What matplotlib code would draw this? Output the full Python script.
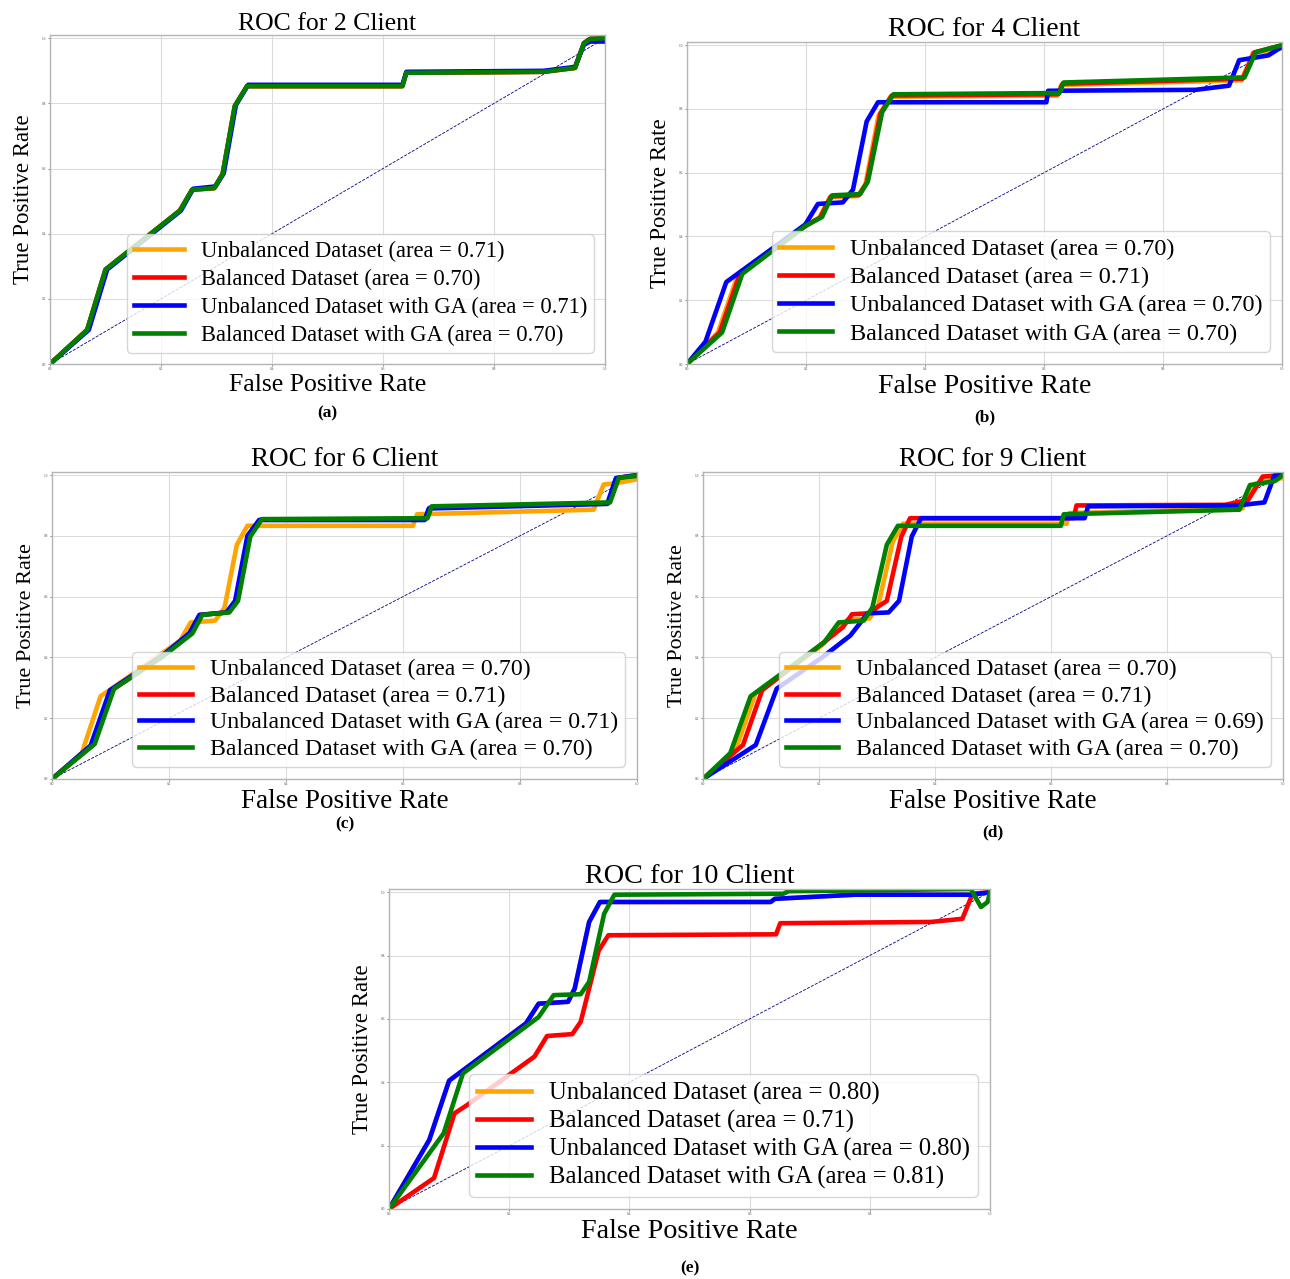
import numpy as np
import matplotlib
matplotlib.use("Agg")
import matplotlib.pyplot as plt

plt.rcParams['font.family'] = ['Liberation Serif', 'DejaVu Serif']

series_names = ["Unbalanced Dataset", "Balanced Dataset",
                "Unbalanced Dataset with GA", "Balanced Dataset with GA"]
colors = ["orange", "red", "blue", "green"]

# ---- 2 clients ----
a_unbal_fpr = [0, 0.067, 0.10, 0.234, 0.256, 0.296, 0.311, 0.333, 0.355, 0.635, 0.642, 0.889, 0.946, 0.962, 0.973, 1.0]
a_unbal_tpr = [0, 0.105, 0.29, 0.471, 0.535, 0.54, 0.583, 0.792, 0.853, 0.853, 0.894, 0.897, 0.909, 0.985, 0.998, 1.0]
a_bal_fpr = [0, 0.067, 0.10, 0.234, 0.256, 0.296, 0.311, 0.333, 0.355, 0.635, 0.642, 0.889, 0.946, 0.962, 0.973, 1.0]
a_bal_tpr = [0, 0.105, 0.29, 0.471, 0.535, 0.54, 0.583, 0.792, 0.853, 0.853, 0.894, 0.897, 0.909, 0.985, 0.998, 1.0]
a_unbal_ga_fpr = [0, 0.07, 0.103, 0.236, 0.258, 0.298, 0.313, 0.335, 0.357, 0.635, 0.642, 0.889, 0.946, 0.962, 0.973, 1.0]
a_unbal_ga_tpr = [0, 0.105, 0.29, 0.471, 0.538, 0.545, 0.585, 0.795, 0.857, 0.857, 0.897, 0.9, 0.912, 0.98, 0.99, 0.99]
a_bal_ga_fpr = [0, 0.067, 0.10, 0.234, 0.256, 0.296, 0.311, 0.333, 0.355, 0.635, 0.642, 0.889, 0.946, 0.962, 0.973, 1.0]
a_bal_ga_tpr = [0, 0.105, 0.29, 0.471, 0.535, 0.54, 0.583, 0.792, 0.853, 0.853, 0.894, 0.897, 0.909, 0.985, 0.998, 1.0]
a_auc = [0.71, 0.70, 0.71, 0.70]

# ---- 4 clients ----
b_unbal_fpr = [0, 0.052, 0.086, 0.199, 0.222, 0.240, 0.287, 0.300, 0.322, 0.342, 0.622, 0.629, 0.932, 0.951, 1.0]
b_unbal_tpr = [0, 0.099, 0.283, 0.433, 0.458, 0.523, 0.527, 0.565, 0.78, 0.838, 0.842, 0.875, 0.89, 0.975, 0.99]
b_bal_fpr = [0, 0.055, 0.089, 0.199, 0.224, 0.242, 0.289, 0.302, 0.325, 0.344, 0.624, 0.631, 0.934, 0.953, 1.0]
b_bal_tpr = [0, 0.099, 0.283, 0.433, 0.46, 0.526, 0.53, 0.568, 0.785, 0.842, 0.846, 0.879, 0.895, 0.977, 1.0]
b_unbal_ga_fpr = [0, 0.031, 0.066, 0.199, 0.22, 0.262, 0.279, 0.302, 0.321, 0.604, 0.607, 0.855, 0.911, 0.928, 0.977, 1.0]
b_unbal_ga_tpr = [0, 0.07, 0.257, 0.438, 0.502, 0.507, 0.547, 0.761, 0.821, 0.821, 0.857, 0.86, 0.873, 0.953, 0.968, 0.995]
b_bal_ga_fpr = [0, 0.059, 0.093, 0.199, 0.227, 0.244, 0.291, 0.304, 0.328, 0.347, 0.626, 0.633, 0.937, 0.956, 1.0]
b_bal_ga_tpr = [0, 0.099, 0.283, 0.433, 0.461, 0.529, 0.533, 0.572, 0.79, 0.846, 0.85, 0.883, 0.899, 0.978, 1.0]
b_auc = [0.70, 0.71, 0.70, 0.70]

# ---- 6 clients ----
c_unbal_fpr = [0, 0.051, 0.083, 0.219, 0.237, 0.279, 0.295, 0.316, 0.334, 0.617, 0.624, 0.926, 0.943, 0.964, 1.0]
c_unbal_tpr = [0, 0.085, 0.272, 0.455, 0.515, 0.521, 0.564, 0.771, 0.833, 0.833, 0.871, 0.886, 0.969, 0.973, 0.986]
c_bal_fpr = [0, 0.069, 0.102, 0.188, 0.237, 0.254, 0.300, 0.315, 0.336, 0.356, 0.639, 0.646, 0.951, 0.966, 1.0]
c_bal_tpr = [0, 0.11, 0.292, 0.403, 0.48, 0.54, 0.548, 0.586, 0.8, 0.853, 0.855, 0.893, 0.907, 0.99, 1.0]
c_unbal_ga_fpr = [0, 0.066, 0.099, 0.188, 0.235, 0.252, 0.298, 0.313, 0.334, 0.354, 0.637, 0.644, 0.949, 0.964, 1.0]
c_unbal_ga_tpr = [0, 0.11, 0.292, 0.405, 0.48, 0.54, 0.548, 0.586, 0.8, 0.852, 0.852, 0.89, 0.905, 0.99, 1.0]
c_bal_ga_fpr = [0, 0.073, 0.106, 0.188, 0.240, 0.257, 0.303, 0.318, 0.339, 0.359, 0.642, 0.649, 0.954, 0.969, 1.0]
c_bal_ga_tpr = [0, 0.115, 0.297, 0.401, 0.479, 0.540, 0.548, 0.586, 0.798, 0.855, 0.858, 0.897, 0.910, 0.991, 0.997]
c_auc = [0.70, 0.71, 0.71, 0.70]

# ---- 9 clients ----
d_unbal_fpr = [0, 0.055, 0.09, 0.205, 0.236, 0.25, 0.287, 0.302, 0.327, 0.345, 0.627, 0.632, 0.93, 0.95, 0.975, 1.0]
d_unbal_tpr = [0, 0.09, 0.28, 0.44, 0.5, 0.525, 0.528, 0.57, 0.78, 0.84, 0.84, 0.875, 0.89, 0.97, 0.985, 0.99]
d_bal_fpr = [0, 0.069, 0.102, 0.198, 0.241, 0.257, 0.284, 0.317, 0.342, 0.357, 0.639, 0.644, 0.9, 0.94, 0.965, 1.0]
d_bal_tpr = [0, 0.112, 0.292, 0.434, 0.499, 0.542, 0.545, 0.586, 0.798, 0.858, 0.858, 0.9, 0.902, 0.918, 0.995, 1.0]
d_unbal_ga_fpr = [0, 0.091, 0.127, 0.206, 0.254, 0.284, 0.320, 0.338, 0.360, 0.376, 0.658, 0.664, 0.922, 0.968, 0.985, 1.0]
d_unbal_ga_tpr = [0, 0.112, 0.297, 0.401, 0.472, 0.545, 0.548, 0.586, 0.798, 0.858, 0.858, 0.897, 0.9, 0.91, 0.998, 1.0]
d_bal_ga_fpr = [0, 0.047, 0.082, 0.209, 0.234, 0.277, 0.292, 0.317, 0.336, 0.617, 0.622, 0.925, 0.943, 0.986, 1.0]
d_bal_ga_tpr = [0, 0.085, 0.272, 0.45, 0.515, 0.521, 0.564, 0.771, 0.833, 0.833, 0.871, 0.886, 0.967, 0.98, 1.0]
d_auc = [0.70, 0.71, 0.69, 0.70]

# ---- 10 clients ----
e_unbal_fpr = [0, 0.067, 0.100, 0.228, 0.249, 0.298, 0.309, 0.333, 0.351, 0.635, 0.642, 0.775, 0.972, 1.0]
e_unbal_tpr = [0, 0.218, 0.405, 0.586, 0.648, 0.654, 0.696, 0.906, 0.969, 0.969, 0.979, 0.992, 0.992, 1.0]
e_bal_fpr = [0, 0.075, 0.109, 0.13, 0.242, 0.263, 0.305, 0.319, 0.349, 0.365, 0.644, 0.651, 0.902, 0.954, 0.971, 1.0]
e_bal_tpr = [0, 0.098, 0.302, 0.328, 0.481, 0.546, 0.552, 0.591, 0.816, 0.864, 0.867, 0.902, 0.906, 0.916, 0.995, 1.0]
e_unbal_ga_fpr = [0, 0.067, 0.100, 0.228, 0.249, 0.298, 0.309, 0.333, 0.351, 0.635, 0.642, 0.775, 0.972, 1.0]
e_unbal_ga_tpr = [0, 0.218, 0.405, 0.586, 0.648, 0.654, 0.696, 0.906, 0.969, 0.969, 0.979, 0.992, 0.992, 1.0]
e_bal_ga_fpr = [0, 0.091, 0.123, 0.249, 0.274, 0.319, 0.333, 0.358, 0.375, 0.656, 0.665, 0.968, 0.985, 0.996, 1.0]
e_bal_ga_tpr = [0, 0.239, 0.428, 0.606, 0.675, 0.678, 0.717, 0.932, 0.992, 0.995, 1.003, 1.01, 0.953, 0.969, 1.0]
e_auc = [0.80, 0.71, 0.80, 0.81]

clients = [2, 4, 6, 9, 10]
panel_tags = ["(a)", "(b)", "(c)", "(d)", "(e)"]
curves = [
    [(a_unbal_fpr, a_unbal_tpr), (a_bal_fpr, a_bal_tpr), (a_unbal_ga_fpr, a_unbal_ga_tpr), (a_bal_ga_fpr, a_bal_ga_tpr)],
    [(b_unbal_fpr, b_unbal_tpr), (b_bal_fpr, b_bal_tpr), (b_unbal_ga_fpr, b_unbal_ga_tpr), (b_bal_ga_fpr, b_bal_ga_tpr)],
    [(c_unbal_fpr, c_unbal_tpr), (c_bal_fpr, c_bal_tpr), (c_unbal_ga_fpr, c_unbal_ga_tpr), (c_bal_ga_fpr, c_bal_ga_tpr)],
    [(d_unbal_fpr, d_unbal_tpr), (d_bal_fpr, d_bal_tpr), (d_unbal_ga_fpr, d_unbal_ga_tpr), (d_bal_ga_fpr, d_bal_ga_tpr)],
    [(e_unbal_fpr, e_unbal_tpr), (e_bal_fpr, e_bal_tpr), (e_unbal_ga_fpr, e_unbal_ga_tpr), (e_bal_ga_fpr, e_bal_ga_tpr)],
]
aucs = [a_auc, b_auc, c_auc, d_auc, e_auc]

W, H = 1290, 1279
# axes boxes in pixels: left, top, right, bottom
boxes = [(50, 35, 605, 364), (687, 42, 1282, 364), (52, 472, 637, 779),
         (703, 472, 1283, 779), (389, 889, 990, 1209)]
# (title/xlabel size, legend size, ylabel size, legend row spacing)
sizes = [(18.5, 16.3, 16.5, 0.3), (20, 17.4, 16.5, 0.26), (19.5, 17.2, 16.0, 0.2),
         (19.5, 17.2, 15.8, 0.2), (20.3, 17.7, 16.5, 0.21)]
tag_y = [413, 417, 824, 832, 1268]

fig = plt.figure(figsize=(W / 100, H / 100), dpi=100)

for i in range(5):
    l, t, r, b = boxes[i]
    ax = fig.add_axes([l / W, 1 - b / H, (r - l) / W, (b - t) / H])
    fs_t, fs_leg, fs_y, spacing = sizes[i]
    ax.plot([0, 1], [0, 1], color='navy', lw=0.6, linestyle='--')
    for k in range(4):
        fpr, tpr = curves[i][k]
        ax.plot(fpr, tpr, color=colors[k], lw=3.3,
                label='%s (area = %0.2f)' % (series_names[k], aucs[i][k]))
    ax.set_xlim(0.0, 1.0)
    ax.set_ylim(0.0, 1.01)
    ax.set_xticks(np.arange(0, 1.01, 0.2))
    ax.set_yticks(np.arange(0, 1.01, 0.2))
    ax.tick_params(labelsize=2.5, length=1.5, width=0.5, colors='#555555', pad=1)
    ax.grid(True, color='#dcdcdc', lw=0.8)
    for s in ax.spines.values():
        s.set_color('#b5b5b5')
        s.set_linewidth(1.0)
    ax.set_title('ROC for %d Client' % clients[i], fontsize=fs_t, pad=3)
    ax.set_xlabel('False Positive Rate', fontsize=fs_t, labelpad=2)
    ax.set_ylabel('True Positive Rate', fontsize=fs_y, labelpad=6)
    ax.legend(loc='lower right', fontsize=fs_leg, handlelength=2.2,
              handletextpad=0.75, labelspacing=spacing, borderpad=0.3)
    fig.text((l + r) / 2 / W, 1 - tag_y[i] / H, panel_tags[i], ha='center', va='center',
             fontsize=12.5, fontweight='bold')

fig.savefig('out.png', dpi=100)
